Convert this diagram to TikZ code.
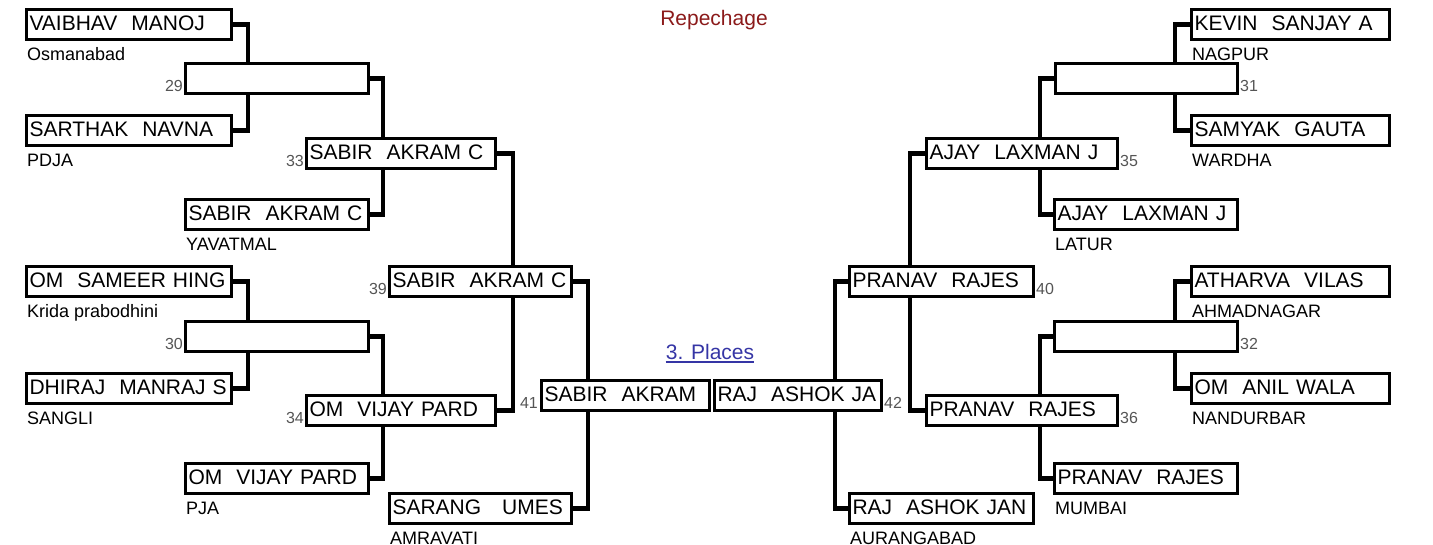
\documentclass[tikz,border=0pt]{standalone}
\usepackage{fontspec}
\setmainfont{Liberation Sans}
\usepackage{xcolor}
\usetikzlibrary{positioning,backgrounds}
\definecolor{repred}{HTML}{8B1A1A}
\definecolor{placeblue}{HTML}{3535A5}
\definecolor{numgray}{HTML}{555555}
\newcommand{\namefont}{\fontsize{21}{24}\selectfont\hyphenpenalty=10000 }
\newcommand{\cityfont}{\fontsize{18}{20}\selectfont}
\newcommand{\numfont}{\fontsize{16}{18}\selectfont}
\newcommand{\headfont}{\fontsize{21}{24}\selectfont}

\begin{document}
\begin{tikzpicture}[x=1pt, y=-1pt,
pbox/.style={draw, line width=3pt, fill=white, anchor=north west, inner xsep=3pt, inner ysep=0pt,
  minimum height=30pt, text width=#1, align=left, text height=16pt, text depth=4pt, font=\namefont},
city/.style={anchor=north west, inner sep=0pt, text height=13pt, text depth=4pt, font=\cityfont},
num/.style={inner sep=0pt, font=\numfont, text=numgray},
link/.style={line width=4.6pt}]
\useasboundingbox (0,0) rectangle (1433,544);

% left half
\node[pbox=199pt] (vaibhav) at (25,8) {VAIBHAV~~MANOJ};
\node[pbox=177pt] (m29) at (184,62) {};
\node[pbox=199pt] (sarthak) at (25,114) {SARTHAK~~NAVNA};
\node[pbox=183pt] (m33) at (305,137) {SABIR~~AKRAM~C};
\node[pbox=177pt] (sabir) at (184,198) {SABIR~~AKRAM~C};
\node[pbox=176pt] (m39) at (388,265) {SABIR~~AKRAM~C};
\node[pbox=199pt] (omsameer) at (25,265) {OM~~SAMEER~HING};
\node[pbox=177pt] (m30) at (184,320) {};
\node[pbox=199pt] (dhiraj) at (25,372) {DHIRAJ~~MANRAJ~S};
\node[pbox=183pt] (m34) at (305,394) {OM~~VIJAY~PARD};
\node[pbox=177pt] (omvijay) at (184,462) {OM~~VIJAY~PARD};
\node[pbox=176pt] (sarang) at (388,492) {SARANG~~~UMES};
\node[pbox=162pt] (m41) at (540,379) {SABIR~~AKRAM};

% right half
\node[pbox=161pt] (m42) at (713,379) {RAJ~~ASHOK~JA};
\node[pbox=192pt] (kevin) at (1190,8) {KEVIN~~SANJAY~A};
\node[pbox=176pt] (m31) at (1054,62) {};
\node[pbox=192pt] (samyak) at (1190,114) {SAMYAK~~GAUTA};
\node[pbox=185pt] (m35) at (925,137) {AJAY~~LAXMAN~J};
\node[pbox=177pt] (ajay) at (1053,198) {AJAY~~LAXMAN~J};
\node[pbox=178pt] (m40) at (848,265) {PRANAV~~RAJES};
\node[pbox=192pt] (atharva) at (1190,265) {ATHARVA~~VILAS};
\node[pbox=177pt] (m32) at (1053,320) {};
\node[pbox=192pt] (omanil) at (1190,372) {OM~~ANIL~WALA};
\node[pbox=185pt] (m36) at (925,394) {PRANAV~~RAJES};
\node[pbox=177pt] (pranav) at (1053,462) {PRANAV~~RAJES};
\node[pbox=178pt] (rajashok) at (848,492) {RAJ~~ASHOK~JAN};

% cities
\node[below=6pt of vaibhav.south west, city, xshift=2pt] (c1) {Osmanabad};
\node[below=6pt of sarthak.south west, city, xshift=2pt] (c2) {PDJA};
\node[below=6pt of sabir.south west, city, xshift=2pt] (c3) {YAVATMAL};
\node[below=6pt of omsameer.south west, city, xshift=2pt] (c4) {Krida prabodhini};
\node[below=6pt of dhiraj.south west, city, xshift=2pt] (c5) {SANGLI};
\node[below=6pt of omvijay.south west, city, xshift=2pt] (c6) {PJA};
\node[below=6pt of sarang.south west, city, xshift=2pt] (c7) {AMRAVATI};
\node[below=6pt of kevin.south west, city, xshift=2pt] (c8) {NAGPUR};
\node[below=6pt of samyak.south west, city, xshift=2pt] (c9) {WARDHA};
\node[below=6pt of ajay.south west, city, xshift=2pt] (c10) {LATUR};
\node[below=6pt of atharva.south west, city, xshift=2pt] (c11) {AHMADNAGAR};
\node[below=6pt of omanil.south west, city, xshift=2pt] (c12) {NANDURBAR};
\node[below=6pt of pranav.south west, city, xshift=2pt] (c13) {MUMBAI};
\node[below=6pt of rajashok.south west, city, xshift=2pt] (c14) {AURANGABAD};

% match numbers
\node[num, left=1pt of m29.south west, anchor=base east, yshift=4pt] {29};
\node[num, left=1pt of m30.south west, anchor=base east, yshift=4pt] {30};
\node[num, left=1pt of m33.south west, anchor=base east, yshift=4pt] {33};
\node[num, left=1pt of m34.south west, anchor=base east, yshift=4pt] {34};
\node[num, left=1pt of m39.south west, anchor=base east, yshift=4pt] {39};
\node[num, left=2pt of m41.south west, anchor=base east, yshift=4pt] {41};
\node[num, right=1pt of m31.south east, anchor=base west, yshift=4pt] {31};
\node[num, right=1pt of m32.south east, anchor=base west, yshift=4pt] {32};
\node[num, right=1pt of m35.south east, anchor=base west, yshift=4pt] {35};
\node[num, right=1pt of m36.south east, anchor=base west, yshift=4pt] {36};
\node[num, right=1pt of m40.south east, anchor=base west, yshift=4pt] {40};
\node[num, right=1pt of m42.south east, anchor=base west, yshift=4pt] {42};

% headings
\node[font=\headfont, text=repred, anchor=base, inner sep=0pt] (title) at (714,25) {Repechage};
\node[font=\headfont, text=placeblue, anchor=base, inner sep=0pt] (places) at (710,359) {3. Places};
\draw[placeblue, line width=1.6pt] ([yshift=-3pt]places.base west) -- ([yshift=-3pt]places.base east);

\begin{pgfonlayer}{background}
\draw[link] (vaibhav.east) -- ++(15,0) |- (sarthak.east);
\draw[link] (m29.east) -- ++(13,0) |- (sabir.east);
\draw[link] (m33.east) -- ++(16,0) |- (m34.east);
\draw[link] (omsameer.east) -- ++(15,0) |- (dhiraj.east);
\draw[link] (m30.east) -- ++(13,0) |- (omvijay.east);
\draw[link] (m39.east) -- ++(15,0) |- (sarang.east);
\draw[link] (kevin.west) -- ++(-15,0) |- (samyak.west);
\draw[link] (m31.west) -- ++(-14,0) |- (ajay.west);
\draw[link] (m35.west) -- ++(-15,0) |- (m36.west);
\draw[link] (atharva.west) -- ++(-15,0) |- (omanil.west);
\draw[link] (m32.west) -- ++(-13,0) |- (pranav.west);
\draw[link] (m40.west) -- ++(-13,0) |- (rajashok.west);
\end{pgfonlayer}
\end{tikzpicture}
\end{document}
